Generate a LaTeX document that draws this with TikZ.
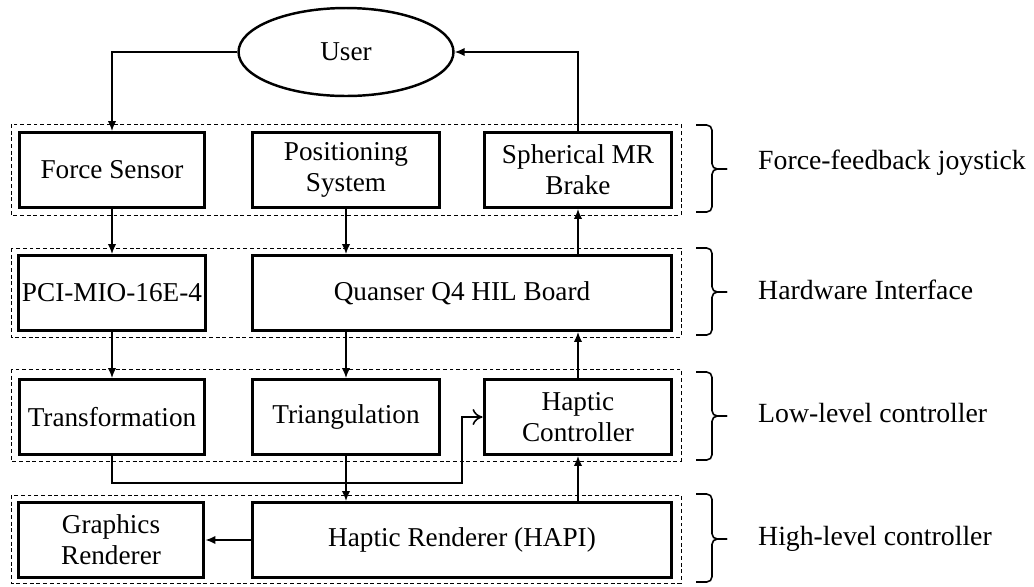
\documentclass[tikz,border=0pt]{standalone}
\usepackage{fontspec}
\setmainfont{Liberation Serif}
\usetikzlibrary{arrows.meta,shapes.geometric}

\begin{document}
\begin{tikzpicture}[x=0.02cm,y=-0.02cm,font=\fontsize{15.5pt}{17.6pt}\selectfont,
    blk/.style={draw,line width=1.7pt,minimum height=1.5cm,align=center,inner sep=2pt},
    grp/.style={draw,line width=0.5pt,dash pattern=on 2.2pt off 1.6pt},
    arr/.style={line width=0.9pt,-{Latex[length=2mm,width=1.7mm]}},
    arrO/.style={line width=0.9pt,-{To[length=2mm,width=3.2mm]}},
    brk/.style={line width=0.9pt,rounded corners=3pt}]
      \useasboundingbox (0,0) rectangle (1034,586);

      % User
      \node[ellipse,draw,line width=1.4pt,minimum width=4.3cm,minimum height=1.76cm] (usr) at (346,52) {User};

      % Group frames
      \draw[grp] (11,124) rectangle (681,215);
      \draw[grp] (11,248) rectangle (681,337);
      \draw[grp] (11,369) rectangle (681,461);
      \draw[grp] (11,495) rectangle (681,583);

      % Force-feedback joystick
      \node[blk,minimum width=3.72cm] (fs) at (112,170) {Force Sensor};
      \node[blk,minimum width=3.76cm] (pos) at (346,170) {Positioning\\System};
      \node[blk,minimum width=3.76cm] (mrb) at (578,170) {Spherical MR\\Brake};

      % Hardware interface
      \node[blk,minimum width=3.72cm] (pci) at (112,293) {PCI-MIO-16E-4};
      \node[blk,minimum width=8.4cm] (q4) at (462,293) {Quanser Q4 HIL Board};

      % Low-level controller
      \node[blk,minimum width=3.72cm] (tf) at (112,417) {Transformation};
      \node[blk,minimum width=3.76cm] (tri) at (346,417) {Triangulation};
      \node[blk,minimum width=3.76cm] (hc) at (578,417) {Haptic\\Controller};

      % High-level controller
      \node[blk,minimum width=3.72cm] (gr) at (111,540) {Graphics\\Renderer};
      \node[blk,minimum width=8.4cm] (hapi) at (462,540) {Haptic Renderer (HAPI)};

      % Signal flow
      \draw[arr] (usr.west) -| (fs.north);
      \draw[arr] (mrb.north) |- (usr.east);
      \draw[arr] (fs.south) -- (pci.north);
      \draw[arr] (pos.south) -- (pos.south |- q4.north);
      \draw[arr] (q4.north -| mrb) -- (mrb.south);
      \draw[arr] (pci.south) -- (tf.north);
      \draw[arr] (q4.south -| tri) -- (tri.north);
      \draw[arr] (hc.north) -- (hc.north |- q4.south);
      \draw[arr] (tri.south) -- (hapi.north -| tri);
      \draw[arr] (hapi.north -| hc) -- (hc.south);
      \draw[arr] (hapi.west) -- (gr.east);
      \coordinate (bend) at (462,483);
      \draw[arrO] (tf.south) |- (bend) |- (hc.west);

      % Braces
      \draw[brk] (696,125) -- (712,125) -- (712,169) -- (727,169);
      \draw[brk] (727,169) -- (712,169) -- (712,212) -- (696,212);
      \draw[brk] (696,248) -- (712,248) -- (712,292) -- (727,292);
      \draw[brk] (727,292) -- (712,292) -- (712,335) -- (696,335);
      \draw[brk] (696,372) -- (712,372) -- (712,416) -- (727,416);
      \draw[brk] (727,416) -- (712,416) -- (712,460) -- (696,460);
      \draw[brk] (696,494) -- (712,494) -- (712,539) -- (727,539);
      \draw[brk] (727,539) -- (712,539) -- (712,582) -- (696,582);

      % Layer names
      \node[anchor=west,font=\fontsize{15.8pt}{18pt}\selectfont] (l1) at (752,163) {Force-feedback joystick};
      \node[anchor=west,font=\fontsize{15.8pt}{18pt}\selectfont] (l2) at (752,290) {Hardware Interface};
      \node[anchor=west,font=\fontsize{15.8pt}{18pt}\selectfont] (l3) at (752,413) {Low-level controller};
      \node[anchor=west,font=\fontsize{15.8pt}{18pt}\selectfont] (l4) at (752,539) {High-level controller};

\end{tikzpicture}
\end{document}
